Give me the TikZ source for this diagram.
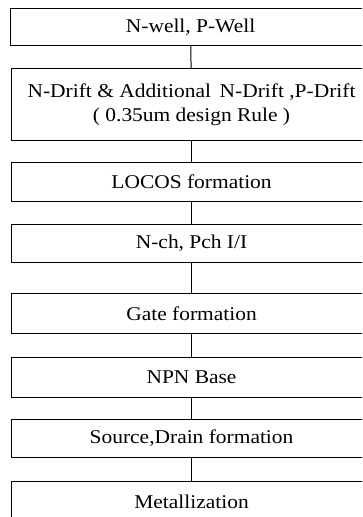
\documentclass[tikz,border=0pt]{standalone}
\usepackage{fontspec}
\setmainfont{Liberation Serif}[FakeStretch=1.1]
\usepackage{tikz}
\usetikzlibrary{positioning}

\begin{document}
\begin{tikzpicture}[
  x=1pt,y=-1pt,
  stage/.style={draw,line width=1.1pt,anchor=north west,minimum width=360pt,inner sep=0pt,align=center,font=\fontsize{19.5}{24.5}\selectfont},
  link/.style={line width=1pt}
]
\clip (0,0) rectangle (362,517);
\node[stage,minimum height=37pt] (s1) at (10,8) {N-well, P-Well};
\node[stage,minimum height=72pt] (s2) at (11,68) {N-Drift \& Additional\, N-Drift ,P-Drift\\( 0.35um design Rule )};
\node[stage,minimum height=39pt] (s3) at (11,162) {LOCOS formation};
\node[stage,minimum height=38pt] (s4) at (11,224) {N-ch, Pch I/I};
\node[stage,minimum height=40pt] (s5) at (11,293) {Gate formation};
\node[stage,minimum height=40pt] (s6) at (11,357) {NPN Base};
\node[stage,minimum height=38pt] (s7) at (11,419) {Source,Drain formation};
\node[stage,minimum height=40pt] (s8) at (11,481) {Metallization};
\draw[link] (s1) -- (s2);
\draw[link] (s2) -- (s3);
\draw[link] (s3) -- (s4);
\draw[link] (s4) -- (s5);
\draw[link] (s5) -- (s6);
\draw[link] (s6) -- (s7);
\draw[link] (s7) -- (s8);
\end{tikzpicture}
\end{document}
